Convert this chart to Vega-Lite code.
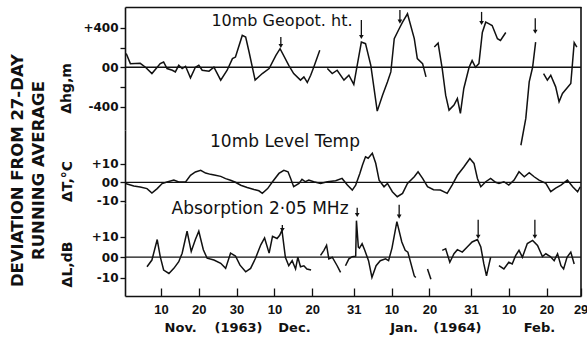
{
"$schema": "https://vega.github.io/schema/vega-lite/v6.json",
"background": "white",
"padding": {"left": 10, "top": 6, "right": 0, "bottom": 2},
"spacing": 0,
"bounds": "flush",
"title": {"text": ["\u00a0\u00a0\u00a0\u00a0\u00a0\u00a0\u00a0\u00a0\u00a0\u00a0DEVIATION FROM 27-DAY", "\u00a0\u00a0\u00a0\u00a0\u00a0\u00a0\u00a0\u00a0\u00a0\u00a0RUNNING AVERAGE"], "orient": "left", "anchor": "middle", "font": "DejaVu Sans", "fontSize": 16.5, "fontWeight": "bold", "lineHeight": 21, "offset": 12, "color": "#111"},
"config": {
  "view": {"stroke": null},
  "axis": {"domainColor": "#111", "domainWidth": 1.6, "tickColor": "#111", "tickWidth": 1.3, "labelColor": "#111", "titleColor": "#111", "labelFont": "DejaVu Sans", "labelFontWeight": "bold", "labelFontSize": 12, "titleFont": "DejaVu Sans", "titleFontWeight": "bold", "titleFontSize": 14, "grid": false},
  "text": {"font": "DejaVu Sans", "color": "#111"},
  "line": {"color": "#111", "strokeWidth": 1.5},
  "rule": {"color": "#111"},
  "point": {"color": "#111"}
},
"datasets": {
  "geo": [
    {"day":0.8,"v":140,"seg":1},{"day":1.9,"v":37,"seg":1},{"day":4.5,"v":40,"seg":1},{"day":5.9,"v":0,"seg":1},{"day":7.6,"v":-64,"seg":1},{"day":9.0,"v":0,"seg":1},{"day":9.8,"v":37,"seg":1},{"day":10.7,"v":54,"seg":1},{"day":11.6,"v":-13,"seg":1},{"day":13.0,"v":-30,"seg":1},{"day":13.8,"v":-47,"seg":1},{"day":14.7,"v":20,"seg":1},{"day":15.6,"v":-13,"seg":1},{"day":16.5,"v":10,"seg":1},{"day":17.8,"v":-108,"seg":1},{"day":19.1,"v":0,"seg":1},{"day":20.0,"v":20,"seg":1},{"day":20.9,"v":-30,"seg":1},{"day":22.7,"v":-40,"seg":1},{"day":24.0,"v":0,"seg":1},{"day":25.8,"v":-131,"seg":1},{"day":27.5,"v":-30,"seg":1},{"day":28.9,"v":88,"seg":1},{"day":29.7,"v":104,"seg":1},{"day":31.5,"v":324,"seg":1},{"day":32.4,"v":307,"seg":1},{"day":33.3,"v":155,"seg":1},{"day":34.9,"v":-131,"seg":1},{"day":36.8,"v":-64,"seg":1},{"day":38.6,"v":-13,"seg":1},{"day":40.4,"v":121,"seg":1},{"day":41.5,"v":189,"seg":1},{"day":43.8,"v":20,"seg":1},{"day":45.1,"v":-64,"seg":1},{"day":46.9,"v":-131,"seg":1},{"day":47.8,"v":-98,"seg":1},{"day":48.7,"v":-155,"seg":1},{"day":49.6,"v":-81,"seg":1},{"day":50.4,"v":0,"seg":1},{"day":52.0,"v":172,"seg":1},
    {"day":54.0,"v":-13,"seg":2},{"day":55.3,"v":-64,"seg":2},{"day":56.6,"v":-30,"seg":2},{"day":58.4,"v":-131,"seg":2},{"day":59.7,"v":-81,"seg":2},{"day":61.0,"v":-175,"seg":2},{"day":61.9,"v":20,"seg":2},{"day":63.0,"v":256,"seg":2},{"day":64.1,"v":240,"seg":2},{"day":65.5,"v":20,"seg":2},{"day":67.2,"v":-446,"seg":2},{"day":68.6,"v":-284,"seg":2},{"day":69.9,"v":-149,"seg":2},{"day":70.8,"v":-47,"seg":2},{"day":71.7,"v":291,"seg":2},{"day":73.0,"v":392,"seg":2},{"day":73.9,"v":459,"seg":2},{"day":75.2,"v":544,"seg":2},{"day":77.0,"v":291,"seg":2},{"day":77.8,"v":88,"seg":2},{"day":79.2,"v":37,"seg":2},{"day":80.1,"v":-98,"seg":2},
    {"day":82.3,"v":206,"seg":3},{"day":83.3,"v":246,"seg":3},{"day":84.4,"v":-17,"seg":3},{"day":85.3,"v":-284,"seg":3},{"day":86.2,"v":-436,"seg":3},{"day":87.5,"v":-385,"seg":3},{"day":88.4,"v":-318,"seg":3},{"day":89.2,"v":-469,"seg":3},{"day":90.1,"v":-216,"seg":3},{"day":91.5,"v":0,"seg":3},{"day":92.3,"v":68,"seg":3},{"day":93.2,"v":0,"seg":3},{"day":94.1,"v":37,"seg":3},{"day":95.0,"v":354,"seg":3},{"day":95.9,"v":459,"seg":3},{"day":96.8,"v":442,"seg":3},{"day":97.6,"v":425,"seg":3},{"day":99.0,"v":291,"seg":3},{"day":99.8,"v":273,"seg":3},{"day":101.2,"v":354,"seg":3},
    {"day":105.2,"v":-793,"seg":4},{"day":106.5,"v":-520,"seg":4},{"day":107.4,"v":-149,"seg":4},{"day":108.3,"v":0,"seg":4},{"day":109.1,"v":256,"seg":4},
    {"day":111.2,"v":-64,"seg":5},{"day":112.2,"v":-131,"seg":5},{"day":113.1,"v":-81,"seg":5},{"day":114.4,"v":-199,"seg":5},{"day":115.3,"v":-351,"seg":5},{"day":116.2,"v":-266,"seg":5},{"day":118.4,"v":-165,"seg":5},{"day":119.3,"v":250,"seg":5},{"day":120.0,"v":206,"seg":5}
  ],
  "temp": [
    {"day":0.6,"v":-0.7},{"day":2.8,"v":-2},{"day":4.5,"v":-2.5},{"day":6.3,"v":-3.4},{"day":7.6,"v":-5.8},{"day":9.0,"v":-3.4},{"day":10.3,"v":-0.7},{"day":11.6,"v":0.2},{"day":13.4,"v":1.2},{"day":14.7,"v":0.2},{"day":16.5,"v":0.2},{"day":17.8,"v":3.8},{"day":19.1,"v":5.6},{"day":20.5,"v":6.5},{"day":21.8,"v":5.0},{"day":23.1,"v":4.3},{"day":24.4,"v":3.8},{"day":25.8,"v":3.2},{"day":27.1,"v":2.0},{"day":28.4,"v":1.1},{"day":29.7,"v":0},{"day":31.1,"v":-1.6},{"day":32.8,"v":-2.8},{"day":34.6,"v":-3.9},{"day":35.9,"v":-4.6},{"day":36.8,"v":-6},{"day":38.2,"v":-3.4},{"day":39.5,"v":0.3},{"day":41.2,"v":4.8},{"day":42.5,"v":6.5},{"day":43.6,"v":5.7},{"day":44.3,"v":2.1},{"day":45.1,"v":-2.4},{"day":46.5,"v":-0.6},{"day":47.3,"v":1.6},{"day":48.2,"v":0.3},{"day":49.1,"v":1.2},{"day":50.4,"v":0.3},{"day":52.2,"v":-0.6},{"day":54.0,"v":0.3},{"day":56.2,"v":0.8},{"day":57.9,"v":2.1},{"day":59.3,"v":-1.5},{"day":60.6,"v":-4.2},{"day":61.5,"v":-1.5},{"day":62.6,"v":4.8},{"day":63.3,"v":9.3},{"day":64.1,"v":13.8},{"day":64.8,"v":13.0},{"day":65.9,"v":15.7},{"day":66.8,"v":10.3},{"day":67.7,"v":1.2},{"day":69.0,"v":-2.4},{"day":69.9,"v":-0.6},{"day":71.2,"v":-5.1},{"day":72.5,"v":-7.8},{"day":73.9,"v":-6.0},{"day":75.2,"v":-0.6},{"day":77.0,"v":3.0},{"day":78.0,"v":5.7},{"day":79.2,"v":2.1},{"day":80.5,"v":-2.4},{"day":82.1,"v":-4.0},{"day":83.9,"v":-4.2},{"day":85.7,"v":-6.0},{"day":87.0,"v":-1.5},{"day":88.4,"v":3.8},{"day":90.1,"v":8.3},{"day":91.7,"v":12.9},{"day":92.8,"v":10.2},{"day":93.7,"v":2.1},{"day":94.6,"v":-2.4},{"day":95.9,"v":0.3},{"day":97.2,"v":2.1},{"day":98.5,"v":0},{"day":99.4,"v":-0.6},{"day":100.7,"v":0.3},{"day":102.0,"v":-1.5},{"day":103.4,"v":1.2},{"day":104.7,"v":5.7},{"day":106.1,"v":3.0},{"day":107.4,"v":5.2},{"day":108.7,"v":3.0},{"day":110.0,"v":1.2},{"day":111.8,"v":-0.6},{"day":113.1,"v":-5.1},{"day":114.4,"v":-3.2},{"day":115.8,"v":-1.5},{"day":117.5,"v":1.2},{"day":118.9,"v":-2.4},{"day":120.2,"v":-5.1},{"day":120.9,"v":-2.4}
  ],
  "abs": [
    {"day":6.3,"v":-4.7,"seg":1},{"day":7.6,"v":-1.4,"seg":1},{"day":9.0,"v":8.7,"seg":1},{"day":9.8,"v":0.3,"seg":1},{"day":10.7,"v":-6.3,"seg":1},{"day":12.1,"v":-8,"seg":1},{"day":13.4,"v":-5.5,"seg":1},{"day":14.7,"v":-2.2,"seg":1},{"day":15.6,"v":2,"seg":1},{"day":16.9,"v":12.8,"seg":1},{"day":18.0,"v":2.8,"seg":1},{"day":19.1,"v":8.7,"seg":1},{"day":20.0,"v":12.8,"seg":1},{"day":21.2,"v":3.7,"seg":1},{"day":22.2,"v":-0.5,"seg":1},{"day":24.0,"v":-1.4,"seg":1},{"day":25.8,"v":-3,"seg":1},{"day":27.1,"v":-5.5,"seg":1},{"day":28.4,"v":2,"seg":1},{"day":29.7,"v":0.6,"seg":1},{"day":30.9,"v":-3.9,"seg":1},{"day":32.4,"v":-7.2,"seg":1},{"day":33.7,"v":-5.5,"seg":1},{"day":35.0,"v":-0.5,"seg":1},{"day":36.4,"v":6.1,"seg":1},{"day":37.4,"v":9.5,"seg":1},{"day":38.6,"v":2,"seg":1},{"day":39.5,"v":10.3,"seg":1},{"day":40.7,"v":9.2,"seg":1},{"day":41.4,"v":10.8,"seg":1},{"day":42.0,"v":13.3,"seg":1},{"day":42.9,"v":0,"seg":1},{"day":43.8,"v":-4.2,"seg":1},{"day":44.7,"v":-1.7,"seg":1},{"day":45.6,"v":-5.8,"seg":1},{"day":46.2,"v":0,"seg":1},{"day":46.9,"v":-4.7,"seg":1},{"day":47.8,"v":-4.2,"seg":1},{"day":48.6,"v":-5.8,"seg":1},{"day":49.7,"v":-6.3,"seg":1},
    {"day":52.2,"v":0.9,"seg":2},{"day":53.1,"v":3.4,"seg":2},{"day":53.8,"v":5.9,"seg":2},{"day":54.4,"v":-0.8,"seg":2},{"day":55.3,"v":0,"seg":2},{"day":56.6,"v":-4.2,"seg":2},{"day":57.5,"v":-7.5,"seg":2},
    {"day":58.8,"v":-4.2,"seg":3},{"day":59.7,"v":-0.8,"seg":3},{"day":60.6,"v":0.3,"seg":3},{"day":61.5,"v":0.5,"seg":3},{"day":61.7,"v":18,"seg":3},{"day":62.2,"v":5,"seg":3},{"day":62.5,"v":4.5,"seg":3},{"day":63.2,"v":6.7,"seg":3},{"day":63.9,"v":3.4,"seg":3},{"day":64.9,"v":-1.7,"seg":3},{"day":65.8,"v":-10,"seg":3},{"day":66.9,"v":-4.2,"seg":3},{"day":68.0,"v":-1.7,"seg":3},{"day":69.4,"v":-0.8,"seg":3},{"day":70.2,"v":-1.7,"seg":3},{"day":71.1,"v":4.5,"seg":3},{"day":72.4,"v":17.5,"seg":3},{"day":73.7,"v":7.5,"seg":3},{"day":74.6,"v":3.4,"seg":3},{"day":75.3,"v":2.5,"seg":3},{"day":77.0,"v":-9.2,"seg":3},{"day":77.4,"v":-10,"seg":3},
    {"day":80.5,"v":-5.8,"seg":4},{"day":81.4,"v":-10.8,"seg":4},
    {"day":84.4,"v":3.4,"seg":5},{"day":85.3,"v":4.2,"seg":5},{"day":86.4,"v":-2.5,"seg":5},{"day":87.5,"v":1.7,"seg":5},{"day":88.4,"v":3.7,"seg":5},{"day":89.7,"v":2.5,"seg":5},{"day":91.0,"v":5,"seg":5},{"day":92.3,"v":7.5,"seg":5},{"day":93.7,"v":8.7,"seg":5},{"day":94.6,"v":5,"seg":5},{"day":95.4,"v":-3.3,"seg":5},{"day":96.1,"v":-9.2,"seg":5},{"day":96.8,"v":-3.3,"seg":5},{"day":97.2,"v":0,"seg":5},
    {"day":99.4,"v":-4.2,"seg":6},{"day":100.7,"v":-5.8,"seg":6},{"day":102.0,"v":-2.5,"seg":6},{"day":102.9,"v":-3.3,"seg":6},{"day":103.8,"v":0.8,"seg":6},{"day":104.7,"v":3.4,"seg":6},{"day":105.6,"v":0,"seg":6},{"day":106.9,"v":6.7,"seg":6},{"day":108.3,"v":8.3,"seg":6},{"day":109.6,"v":5.8,"seg":6},{"day":110.9,"v":0.3,"seg":6},{"day":111.8,"v":1.7,"seg":6},{"day":113.0,"v":0.3,"seg":6},{"day":114.0,"v":-1.7,"seg":6},{"day":114.9,"v":1.7,"seg":6},{"day":115.8,"v":-4.2,"seg":6},{"day":116.5,"v":-5.8,"seg":6},{"day":117.4,"v":0,"seg":6},{"day":118.4,"v":2.5,"seg":6},{"day":119.3,"v":-3.3,"seg":6}
  ],
  "geoArrows": [{"day": 41.7, "v": 308, "tip": 217}, {"day": 63.0, "v": 481, "tip": 308}, {"day": 73.2, "v": 583, "tip": 464}, {"day": 94.8, "v": 563, "tip": 451}, {"day": 109.0, "v": 498, "tip": 362}],
  "geoHeads": [{"day": 41.7, "v": 217}, {"day": 63.0, "v": 308}, {"day": 73.2, "v": 464}, {"day": 94.8, "v": 451}, {"day": 109.0, "v": 362}],
  "absArrows": [{"day": 42.1, "v": 15.9, "tip": 13.4}, {"day": 61.9, "v": 24.3, "tip": 20.8}, {"day": 73.0, "v": 25.8, "tip": 20.0}, {"day": 93.9, "v": 18.4, "tip": 10.1}, {"day": 108.9, "v": 18.4, "tip": 10.1}],
  "absHeads": [{"day": 42.1, "v": 13.4}, {"day": 61.9, "v": 20.8}, {"day": 73.0, "v": 20.0}, {"day": 93.9, "v": 10.1}, {"day": 108.9, "v": 10.1}]
},
"vconcat": [
  {
    "width": 456, "height": 123,
    "encoding": {
      "x": {"field": "day", "type": "quantitative", "scale": {"domain": [0.48, 121.1], "nice": false, "zero": false}, "axis": {"orient": "top", "labels": false, "ticks": false, "domain": true, "title": null}},
      "y": {"field": "v", "type": "quantitative", "scale": {"domain": [-638, 613], "nice": false, "zero": false}, "axis": {"values": [-400, -200, 0, 200, 400], "labelExpr": "datum.value == 400 ? '+400' : datum.value == 0 ? '00' : datum.value == -400 ? '-400' : ''", "tickSize": 5, "labelPadding": 2, "title": "Δhg,m", "titleY": 81, "titlePadding": 9}}
    },
    "layer": [
      {"data": {"values": [{"day": 0.48, "end": 121.1, "v": 0}]}, "mark": {"type": "rule", "strokeWidth": 1.3}, "encoding": {"x2": {"field": "end"}}},
      {"data": {"values": [{"day": 121.1, "v": -638, "vtop": 613}]}, "mark": {"type": "rule", "strokeWidth": 1.6}, "encoding": {"y2": {"field": "vtop"}}},
      {"data": {"name": "geo"}, "mark": {"type": "line", "strokeWidth": 1.5}, "encoding": {"detail": {"field": "seg"}}},
      {"data": {"name": "geoArrows"}, "mark": {"type": "rule", "strokeWidth": 1.3}, "encoding": {"y2": {"field": "tip"}}},
      {"data": {"name": "geoHeads"}, "mark": {"type": "point", "shape": "triangle-down", "filled": true, "size": 22, "opacity": 1}},
      {"data": {"values": [{"day": 42.0, "v": 466, "label": "10mb Geopot. ht."}]},
       "mark": {"type": "text", "fontSize": 16, "baseline": "middle"}, "encoding": {"text": {"field": "label"}}}
    ]
  },
  {
    "width": 456, "height": 73,
    "encoding": {
      "x": {"field": "day", "type": "quantitative", "scale": {"domain": [0.48, 121.1], "nice": false, "zero": false}, "axis": null},
      "y": {"field": "v", "type": "quantitative", "scale": {"domain": [-11.2, 28.3], "nice": false, "zero": false}, "axis": {"values": [-10, 0, 10], "labelExpr": "datum.value > 0 ? '+10' : datum.value == 0 ? '00' : '-10'", "tickSize": 5, "labelPadding": 2, "title": "ΔT,°C", "titleY": 51, "titlePadding": 17}}
    },
    "layer": [
      {"data": {"values": [{"day": 0.48, "end": 121.1, "v": 0}]}, "mark": {"type": "rule", "strokeWidth": 1.3}, "encoding": {"x2": {"field": "end"}}},
      {"data": {"values": [{"day": 121.1, "v": -11.2, "vtop": 28.3}]}, "mark": {"type": "rule", "strokeWidth": 1.6}, "encoding": {"y2": {"field": "vtop"}}},
      {"data": {"name": "temp"}, "mark": {"type": "line", "strokeWidth": 1.5}},
      {"data": {"values": [{"day": 42.8, "v": 21.8, "label": "10mb Level Temp"}]},
       "mark": {"type": "text", "fontSize": 17, "baseline": "middle"}, "encoding": {"text": {"field": "label"}}}
    ]
  },
  {
    "width": 456, "height": 93,
    "encoding": {
      "x": {"field": "day", "type": "quantitative", "scale": {"domain": [0.48, 121.1], "nice": false, "zero": false}, "axis": {"values": [10, 20, 30, 40, 50, 61, 71, 81, 92, 102, 112, 121], "labelExpr": "'' + (datum.value <= 30 ? datum.value : datum.value <= 61 ? datum.value - 30 : datum.value <= 92 ? datum.value - 61 : datum.value - 92)", "tickSize": -8, "labelPadding": 15, "labelFont": "Liberation Sans", "labelFontSize": 13, "labelFlush": false, "labelOverlap": false, "title": null}},
      "y": {"field": "v", "type": "quantitative", "scale": {"domain": [-19.1, 26.7], "nice": false, "zero": false}, "axis": {"values": [-10, 0, 10], "labelExpr": "datum.value > 0 ? '+10' : datum.value == 0 ? '00' : '-10'", "tickSize": 5, "labelPadding": 2, "title": "ΔL,dB", "titleY": 61, "titlePadding": 17}}
    },
    "layer": [
      {"data": {"values": [{"day": 0.48, "end": 121.1, "v": 0}]}, "mark": {"type": "rule", "strokeWidth": 1.3}, "encoding": {"x2": {"field": "end"}}},
      {"data": {"values": [{"day": 121.1, "v": -19.1, "vtop": 26.7}]}, "mark": {"type": "rule", "strokeWidth": 1.6}, "encoding": {"y2": {"field": "vtop"}}},
      {"data": {"name": "abs"}, "mark": {"type": "line", "strokeWidth": 1.5}, "encoding": {"detail": {"field": "seg"}}},
      {"data": {"name": "absArrows"}, "mark": {"type": "rule", "strokeWidth": 1.3}, "encoding": {"y2": {"field": "tip"}}},
      {"data": {"name": "absHeads"}, "mark": {"type": "point", "shape": "triangle-down", "filled": true, "size": 22, "opacity": 1}},
      {"data": {"values": [{"day": 36.2, "v": 23.8, "label": "Absorption 2·05 MHz"}]},
       "mark": {"type": "text", "fontSize": 17, "baseline": "middle"}, "encoding": {"text": {"field": "label"}}},
      {"data": {"values": [{"day": 15.2, "v": -34.8, "label": "Nov."}, {"day": 30.5, "v": -34.8, "label": "(1963)"}, {"day": 45.3, "v": -34.8, "label": "Dec."}, {"day": 74.3, "v": -34.8, "label": "Jan."}, {"day": 88.4, "v": -34.8, "label": "(1964)"}, {"day": 110.1, "v": -34.8, "label": "Feb."}]},
       "mark": {"type": "text", "fontSize": 13, "fontWeight": "bold", "baseline": "middle"}, "encoding": {"text": {"field": "label"}}}
    ]
  }
]
}
